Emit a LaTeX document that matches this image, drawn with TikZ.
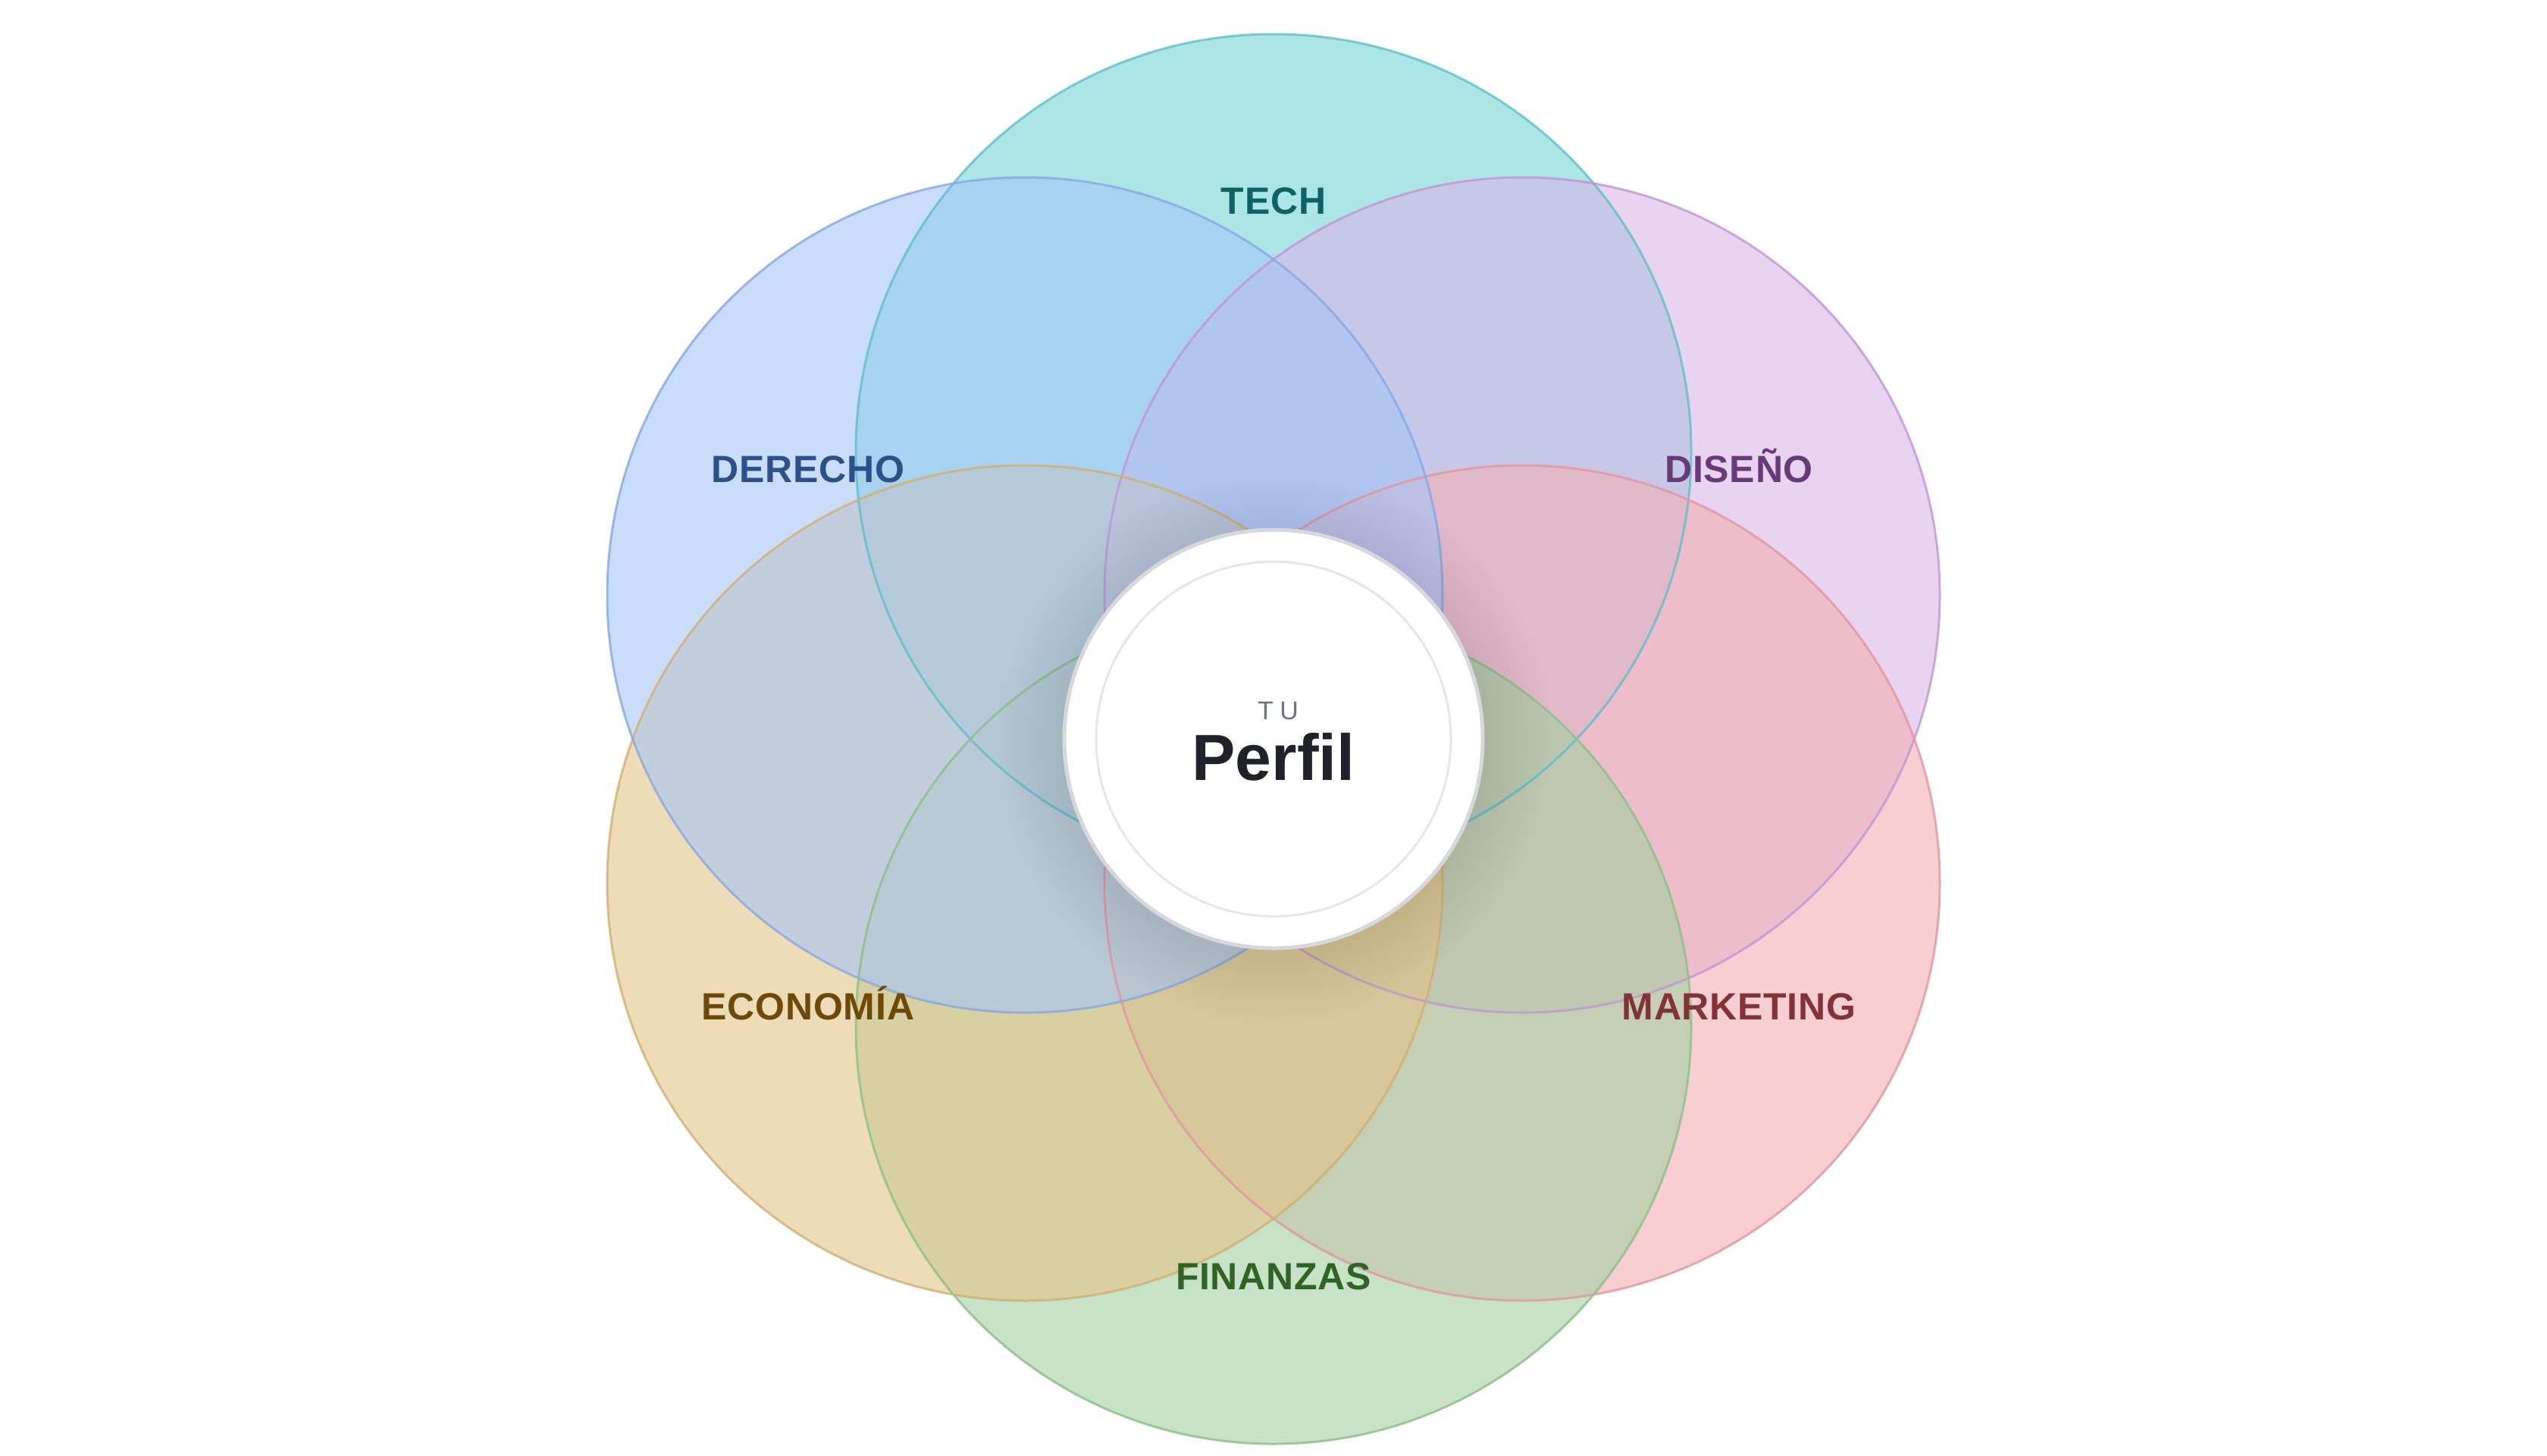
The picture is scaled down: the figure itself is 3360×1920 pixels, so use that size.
\documentclass[tikz,border=0pt]{standalone}
\usepackage{fontspec}
\setmainfont{Liberation Sans}
\definecolor{techC}{RGB}{118,212,213}
\definecolor{derC}{RGB}{165,198,248}
\definecolor{disC}{RGB}{217,182,233}
\definecolor{marC}{RGB}{243,175,180}
\definecolor{ecoC}{RGB}{228,195,138}
\definecolor{finC}{RGB}{163,208,160}
\definecolor{techS}{RGB}{95,192,202}
\definecolor{derS}{RGB}{135,168,228}
\definecolor{disS}{RGB}{192,150,214}
\definecolor{marS}{RGB}{226,150,160}
\definecolor{ecoS}{RGB}{210,176,112}
\definecolor{finS}{RGB}{140,192,135}
\definecolor{techT}{RGB}{15,97,104}
\definecolor{derT}{RGB}{46,80,137}
\definecolor{disT}{RGB}{105,58,120}
\definecolor{marT}{RGB}{131,51,56}
\definecolor{ecoT}{RGB}{110,74,8}
\definecolor{finT}{RGB}{47,100,38}
\definecolor{ringC}{RGB}{214,216,221}
\definecolor{innerC}{RGB}{229,231,235}
\definecolor{tuC}{RGB}{107,114,128}
\definecolor{perfilC}{RGB}{31,35,41}
\begin{document}
\begin{tikzpicture}[x=1pt,y=-1pt,
  petal/.style={circle,inner sep=0pt,minimum size=1102pt,fill=#1,fill opacity=0.6},
  rim/.style={draw=#1,draw opacity=0.8,line width=3pt},
  lab/.style={anchor=base,text=#1,font=\fontsize{50}{60}\selectfont\bfseries\addfontfeature{LetterSpace=1.5}}]
\useasboundingbox (0,0) rectangle (3360,1920);
\fill[white] (0,0) rectangle (3360,1920);
% petals (fills)
\node[petal=techC] (tech) at (1680,596) {};
\node[petal=disC] (dis) at (2008,785) {};
\node[petal=marC] (mar) at (2008,1165) {};
\node[petal=finC] (fin) at (1680,1354) {};
\node[petal=ecoC] (eco) at (1352,1165) {};
\node[petal=derC] (der) at (1352,785) {};
% petal outlines
\draw[rim=techS] (tech.center) circle[radius=551pt];
\draw[rim=disS] (dis.center) circle[radius=551pt];
\draw[rim=marS] (mar.center) circle[radius=551pt];
\draw[rim=finS] (fin.center) circle[radius=551pt];
\draw[rim=ecoS] (eco.center) circle[radius=551pt];
\draw[rim=derS] (der.center) circle[radius=551pt];
% labels
\node[lab=techT] (techL) at (1680,282) {TECH};
\node[lab=derT] (derL) at (1066,636) {DERECHO};
\node[lab=disT] (disL) at (2294,636) {DISEÑO};
\node[lab=ecoT] (ecoL) at (1066,1345) {ECONOMÍA};
\node[lab=marT] (marL) at (2294,1345) {MARKETING};
\node[lab=finT] (finL) at (1680,1701) {FINANZAS};
% shadow
\foreach \k in {1,...,18}{
  \fill[black,opacity=0.003] (1680,982) circle[radius=276pt+\k*5pt];
}
% centre
\node[circle,inner sep=0pt,minimum size=552pt,fill=white,draw=ringC,line width=5pt] (centre) at (1680,975) {};
\node[circle,inner sep=0pt,minimum size=468pt,draw=innerC,line width=3pt] (inner) at (centre) {};
\node[anchor=base,text=tuC,font=\fontsize{34}{40}\selectfont\addfontfeature{LetterSpace=25}] (tu) at (1686,949) {TU};
\node[anchor=base,text=perfilC,font=\fontsize{86}{100}\selectfont\bfseries] (perfil) at (1680,1029) {Perfil};
\end{tikzpicture}
\end{document}
